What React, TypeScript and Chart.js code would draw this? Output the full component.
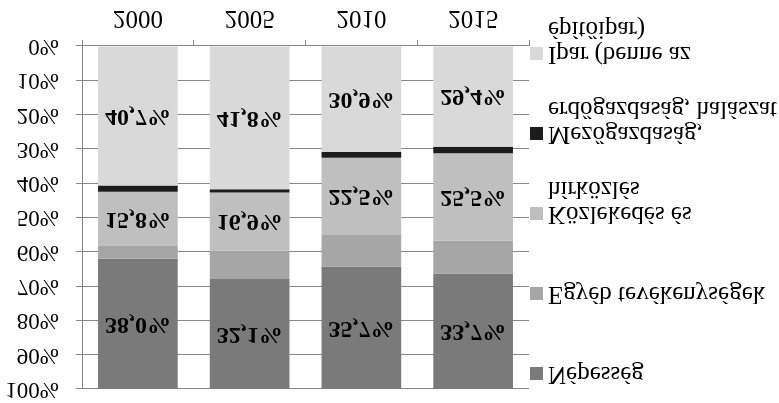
import React, { useEffect, useRef } from 'react';
import { Chart, registerables } from 'chart.js';

Chart.register(...registerables);

const categories = ['2000', '2005', '2010', '2015'];
const ipar = [40.7, 41.8, 30.9, 29.4];
const mezogazdasag = [1.8, 0.9, 1.7, 1.9];
const kozlekedes = [15.8, 16.9, 22.5, 25.5];
const egyeb = [3.7, 8.3, 9.2, 9.5];
const nepesseg = [38.0, 32.1, 35.7, 33.7];

const labelIpar = ['Ipar (benne az', 'építőipar)'];
const labelMezo = ['Mezőgazdaság,', 'erdőgazdaság, halászat'];
const labelKozl = ['Közlekedés és', 'hírközlés'];
const labelEgyeb = ['Egyéb tevékenységek'];
const labelNep = ['Népesség'];

const yTickStep = 10;

const SERIF = '"Liberation Serif", "Times New Roman", serif';
const GRID = '#888888';

const valueLabels = {
  id: 'valueLabels',
  afterDatasetsDraw(chart: any) {
    const ctx = chart.ctx;
    chart.data.datasets.forEach((ds: any, i: number) => {
      if (!ds.showValues) return;
      const meta = chart.getDatasetMeta(i);
      meta.data.forEach((bar: any, j: number) => {
        const p = bar.getProps(['x', 'y', 'base'], true);
        const v = ds.data[j] as number;
        ctx.save();
        ctx.font = `bold 24px ${SERIF}`;
        ctx.fillStyle = '#000';
        ctx.textAlign = 'center';
        ctx.textBaseline = 'middle';
        ctx.fillText(v.toFixed(1).replace('.', ',') + '%', p.x, (p.y + p.base) / 2);
        ctx.restore();
      });
    });
  },
};

const sideLegend = {
  id: 'sideLegend',
  afterDraw(chart: any) {
    const ctx = chart.ctx;
    const area = chart.chartArea;
    const boxX = area.right + 1;
    const textX = boxX + 18;
    const firstTop = 23;
    const step = 80;
    const n = chart.data.datasets.length;
    ctx.save();
    ctx.font = `25px ${SERIF}`;
    ctx.textAlign = 'left';
    ctx.textBaseline = 'alphabetic';
    for (let k = 0; k < n; k++) {
      const ds: any = chart.data.datasets[n - 1 - k];
      const top = firstTop + k * step;
      ctx.fillStyle = ds.backgroundColor;
      ctx.fillRect(boxX, top, 13, 13);
      ctx.fillStyle = '#000';
      (ds.lines as string[]).forEach((line, li) => {
        ctx.fillText(line, textX, top + 13 + li * 25);
      });
    }
    ctx.restore();
  },
};

export default function App() {
  const ref = useRef<HTMLCanvasElement | null>(null);

  useEffect(() => {
    if (!ref.current) return;
    const mk = (lines: string[], data: number[], color: string, showValues: boolean) => ({
      label: lines.join(' '),
      lines,
      data,
      backgroundColor: color,
      borderWidth: 0,
      showValues,
      barPercentage: 0.713,
      categoryPercentage: 1.0,
    });
    const chart = new Chart(ref.current, {
      type: 'bar',
      data: {
        labels: categories,
        datasets: [
          mk(labelIpar, ipar, '#d9d9d9', true),
          mk(labelMezo, mezogazdasag, '#1c1c1c', false),
          mk(labelKozl, kozlekedes, '#bfbfbf', true),
          mk(labelEgyeb, egyeb, '#a6a6a6', false),
          mk(labelNep, nepesseg, '#7a7a7a', true),
        ] as any,
      },
      options: {
        responsive: false,
        animation: false,
        layout: { padding: { top: 0, right: 250, bottom: 0, left: 0 } },
        plugins: {
          legend: { display: false },
          tooltip: { enabled: false },
        },
        scales: {
          x: {
            stacked: true,
            grid: { offset: true, drawOnChartArea: false, tickLength: 6, color: GRID },
            border: { display: true, color: GRID },
            ticks: { font: { family: SERIF, size: 25 }, color: '#000', padding: 7 },
            afterFit(scale: any) {
              scale.height = 46;
            },
          },
          y: {
            stacked: true,
            min: 0,
            max: 100,
            ticks: {
              stepSize: yTickStep,
              callback: (v: any) => `${v}%`,
              font: { family: SERIF, size: 23 },
              color: '#000',
              padding: 17,
            },
            grid: { color: GRID, tickLength: 6 },
            border: { display: true, color: GRID },
            afterFit(scale: any) {
              scale.width = 82;
              scale.paddingTop = 14;
              scale.paddingBottom = 0;
            },
          },
        },
      } as any,
      plugins: [valueLabels, sideLegend],
    });
    return () => chart.destroy();
  }, []);

  return (
    <canvas
      ref={ref}
      width={779}
      height={403}
      style={{
        position: 'fixed',
        left: 0,
        top: 0,
        width: 779,
        height: 403,
        display: 'block',
        transform: 'scaleY(-1)',
      }}
    />
  );
}
